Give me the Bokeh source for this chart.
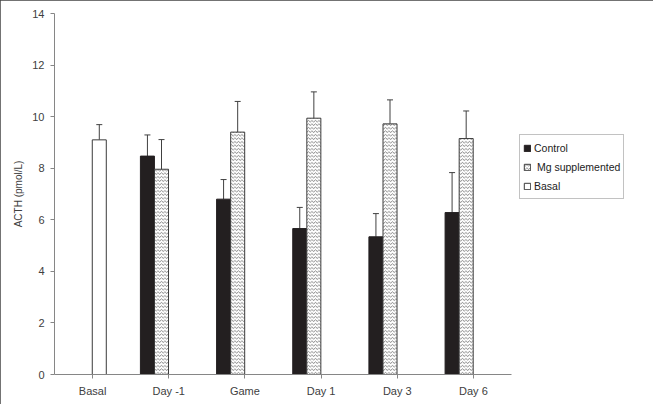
from bokeh.plotting import figure
from bokeh.models import (ColumnDataSource, Range1d, Whisker, TeeHead,
                          Legend, LegendItem, FixedTicker)
from bokeh.transform import dodge
from bokeh.embed import file_html
from bokeh.resources import INLINE

# ---- data ----
categories = ["Basal", "Day -1", "Game", "Day 1", "Day 3", "Day 6"]
day_categories = ["Day -1", "Game", "Day 1", "Day 3", "Day 6"]
control = [8.47, 6.80, 5.66, 5.34, 6.28]
control_sd = [0.82, 0.76, 0.82, 0.90, 1.55]
mg = [7.96, 9.40, 9.94, 9.72, 9.15]
mg_sd = [1.15, 1.19, 1.02, 0.93, 1.07]
basal_categories = ["Basal"]
basal = [9.10]
basal_sd = [0.59]
y_ticks = [0, 2, 4, 6, 8, 10, 12, 14]

FONT = "Liberation Sans"
TXT = "#404040"
AX = "#868686"
EDGE = "#3a3a3a"

idx = {c: i for i, c in enumerate(categories)}

src_days = ColumnDataSource(dict(
    x=[idx[c] for c in day_categories], control=control, mg=mg,
    control_up=[v + e for v, e in zip(control, control_sd)],
    mg_up=[v + e for v, e in zip(mg, mg_sd)],
))
src_basal = ColumnDataSource(dict(
    x=[idx[c] for c in basal_categories], basal=basal,
    basal_up=[v + e for v, e in zip(basal, basal_sd)],
))

CAT_PX = 457 / 6.0          # pixel width of one category
FRAME_W = 577               # frame reaches past the legend
n = len(categories)

p = figure(width=653, height=404, output_backend="svg", toolbar_location=None,
           x_range=Range1d(-0.5, -0.5 + FRAME_W / CAT_PX),
           y_range=Range1d(0, 14),
           min_border_left=54, min_border_right=653 - 54 - FRAME_W,
           min_border_top=13, min_border_bottom=30)
p.styles = {"outline": "2px solid #444444", "outline-offset": "-2px"}
p.outline_line_color = None
p.xgrid.grid_line_color = None
p.ygrid.grid_line_color = None
p.background_fill_color = "white"
p.border_fill_color = "white"

W = 0.184
OFF_C, OFF_M, OFF_B = -0.28, -0.095, 0.088

r_c = p.vbar(x=dodge("x", OFF_C), top="control", width=W,
             source=src_days, fill_color="#231f20", line_color="#231f20", line_width=1)
r_m = p.vbar(x=dodge("x", OFF_M), top="mg", width=W,
             source=src_days, fill_color="white", line_color=EDGE, line_width=1,
             hatch_pattern="horizontal_wave", hatch_color="#5a5a5a",
             hatch_scale=3.5, hatch_weight=0.8)
r_b = p.vbar(x=dodge("x", OFF_B), top="basal", width=W,
             source=src_basal, fill_color="white", line_color=EDGE, line_width=1)

for off, lo, up, src in [(OFF_C, "control", "control_up", src_days),
                         (OFF_M, "mg", "mg_up", src_days),
                         (OFF_B, "basal", "basal_up", src_basal)]:
    w = Whisker(base=dodge("x", off), lower=lo, upper=up,
                source=src, line_color=TXT, line_width=1,
                upper_head=TeeHead(size=6, line_color=TXT, line_width=1),
                lower_head=None)
    p.add_layout(w)

# axes
p.xaxis.ticker = FixedTicker(ticks=list(range(n)))
p.xaxis.major_label_overrides = {i: c for i, c in enumerate(categories)}
p.xaxis.bounds = (-0.5, n - 0.5)
p.yaxis.ticker = FixedTicker(ticks=y_ticks)
p.yaxis.axis_label = "ACTH (pmol/L)"
p.yaxis.axis_label_text_font = FONT
p.yaxis.axis_label_text_font_size = "10px"
p.yaxis.axis_label_text_font_style = "normal"
p.yaxis.axis_label_text_color = TXT
p.yaxis.axis_label_standoff = 5
for ax in (p.xaxis[0], p.yaxis[0]):
    ax.axis_line_color = AX
    ax.major_tick_line_color = AX
    ax.minor_tick_line_color = None
    ax.major_tick_out = 4
    ax.major_tick_in = 0
    ax.major_label_text_font = FONT
    ax.major_label_text_font_size = "11px"
    ax.major_label_text_color = TXT
    ax.major_label_standoff = 6

legend = Legend(items=[
    LegendItem(label="Control", renderers=[r_c]),
    LegendItem(label=" Mg supplemented", renderers=[r_m]),
    LegendItem(label="Basal", renderers=[r_b]),
], location=(465, 175))
legend.label_text_font = FONT
legend.label_text_font_size = "10.5px"
legend.label_text_color = "#222222"
legend.glyph_width = 8
legend.glyph_height = 8
legend.label_height = 19
legend.label_standoff = 3
legend.spacing = 0
legend.padding = 3
legend.margin = 0
legend.border_line_color = AX
legend.border_line_width = 1
legend.background_fill_color = "white"
legend.background_fill_alpha = 1
p.add_layout(legend)

open("out.html", "w").write(file_html(p, INLINE))
